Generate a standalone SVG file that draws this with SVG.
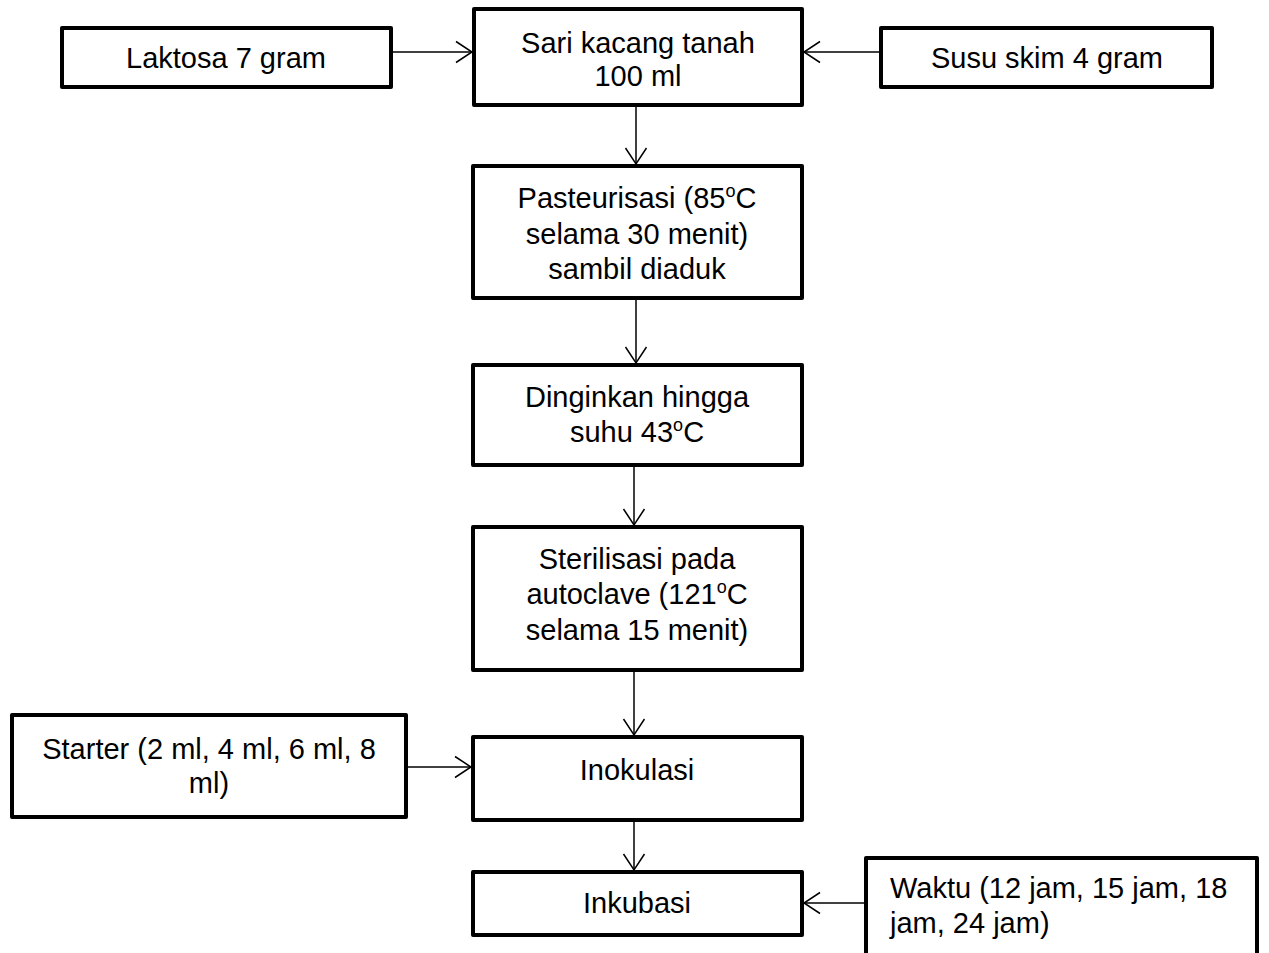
<svg xmlns="http://www.w3.org/2000/svg" width="1269" height="953" viewBox="0 0 1269 953">
<defs>
<style>
.box{fill:#fff;stroke:#000;stroke-width:4;stroke-linejoin:round}
.t{font-family:"Liberation Sans",Arial,sans-serif;font-size:29px;fill:#000;text-anchor:middle}
.l{text-anchor:start}
.sup{font-size:18px}
.c{stroke:#000;stroke-width:1.5;fill:none}
</style>
<marker id="ah" markerUnits="userSpaceOnUse" markerWidth="20" markerHeight="24" viewBox="-17 -12 19 24" refX="0" refY="0" orient="auto">
<path d="M-16,-10.5 L0,0 L-16,10.5" fill="none" stroke="#000" stroke-width="1.5"/>
</marker>
</defs>
<rect width="1269" height="953" fill="#fff"/>
<g id="connectors">
<line class="c" x1="391" y1="52" x2="472" y2="52" marker-end="url(#ah)"/>
<line class="c" x1="881" y1="52" x2="804" y2="52" marker-end="url(#ah)"/>
<line class="c" x1="636" y1="106" x2="636" y2="164" marker-end="url(#ah)"/>
<line class="c" x1="636" y1="299" x2="636" y2="363" marker-end="url(#ah)"/>
<line class="c" x1="634" y1="466" x2="634" y2="525" marker-end="url(#ah)"/>
<line class="c" x1="634" y1="670" x2="634" y2="735" marker-end="url(#ah)"/>
<line class="c" x1="406" y1="767" x2="471" y2="767" marker-end="url(#ah)"/>
<line class="c" x1="634" y1="821" x2="634" y2="870" marker-end="url(#ah)"/>
<line class="c" x1="866" y1="903" x2="804" y2="903" marker-end="url(#ah)"/>
</g>
<g id="laktosa">
<rect class="box" x="62" y="28" width="329" height="59"/>
<text class="t" x="226" y="68">Laktosa 7 gram</text>
</g>
<g id="sari">
<rect class="box" x="474" y="9" width="328" height="96"/>
<text class="t" x="638" y="53">Sari kacang tanah</text>
<text class="t" x="638" y="86">100 ml</text>
</g>
<g id="susu">
<rect class="box" x="881" y="28" width="331" height="59"/>
<text class="t" x="1047" y="68">Susu skim 4 gram</text>
</g>
<g id="pasteurisasi">
<rect class="box" x="473" y="166" width="329" height="132"/>
<text class="t" x="637" y="208">Pasteurisasi (85<tspan class="sup" dy="-11">o</tspan><tspan dy="11">C</tspan></text>
<text class="t" x="637" y="244">selama 30 menit)</text>
<text class="t" x="637" y="279">sambil diaduk</text>
</g>
<g id="dinginkan">
<rect class="box" x="473" y="365" width="329" height="100"/>
<text class="t" x="637" y="407">Dinginkan hingga</text>
<text class="t" x="637" y="442">suhu 43<tspan class="sup" dy="-11">o</tspan><tspan dy="11">C</tspan></text>
</g>
<g id="sterilisasi">
<rect class="box" x="473" y="527" width="329" height="143"/>
<text class="t" x="637" y="569">Sterilisasi pada</text>
<text class="t" x="637" y="604">autoclave (121<tspan class="sup" dy="-11">o</tspan><tspan dy="11">C</tspan></text>
<text class="t" x="637" y="640">selama 15 menit)</text>
</g>
<g id="starter">
<rect class="box" x="12" y="715" width="394" height="102"/>
<text class="t" x="209" y="759">Starter (2 ml, 4 ml, 6 ml, 8</text>
<text class="t" x="209" y="793">ml)</text>
</g>
<g id="inokulasi">
<rect class="box" x="473" y="737" width="329" height="83"/>
<text class="t" x="637" y="780">Inokulasi</text>
</g>
<g id="inkubasi">
<rect class="box" x="473" y="872" width="329" height="63"/>
<text class="t" x="637" y="913">Inkubasi</text>
</g>
<g id="waktu">
<rect class="box" x="866" y="858" width="391" height="110"/>
<text class="t l" x="890" y="898">Waktu (12 jam, 15 jam, 18</text>
<text class="t l" x="890" y="933">jam, 24 jam)</text>
</g>
</svg>
